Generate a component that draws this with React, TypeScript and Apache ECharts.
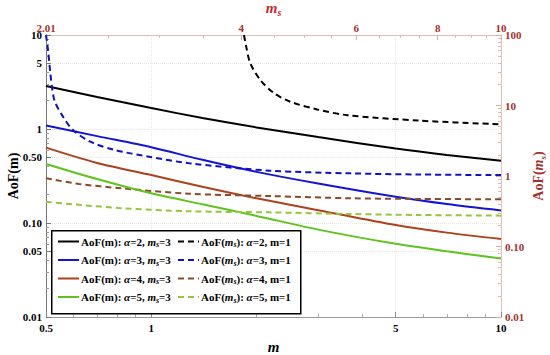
import React, { useEffect, useRef } from 'react';
import * as echarts from 'echarts';

// ---- Data ----
const mValues = [0.5, 0.7, 1, 1.4, 2, 3, 5, 7, 10];
const aofM_a2 = [2.87, 2.19, 1.67, 1.31, 1.04, 0.82, 0.62, 0.53, 0.46];
const aofM_a3 = [1.09, 0.84, 0.64, 0.47, 0.35, 0.263, 0.19, 0.159, 0.136];
const aofM_a4 = [0.633, 0.435, 0.324, 0.243, 0.183, 0.137, 0.095, 0.079, 0.0676];
const aofM_a5 = [0.425, 0.294, 0.207, 0.158, 0.119, 0.085, 0.06, 0.05, 0.042];

const msA2 = [4.04, 4.07, 4.13, 4.28, 4.49, 4.76, 5.23, 5.81, 7.5, 10];
const aofMs_a2 = [100, 70, 40, 23, 15, 11.3, 8.8, 7.3, 6.1, 5.4];
const msA3 = [2.01, 2.025, 2.04, 2.055, 2.074, 2.135, 2.21, 2.35, 2.56, 2.89, 3.34, 4.43, 5.88, 7.5, 10];
const aofMs_a3 = [100, 60, 30, 17, 11.3, 6.9, 4.5, 3.07, 2.34, 1.88, 1.51, 1.19, 1.09, 1.05, 1.03];
const msA45 = [2.01, 2.26, 2.62, 3.33, 4.43, 5.88, 7.5, 10];
const aofMs_a4 = [0.93, 0.77, 0.67, 0.56, 0.52, 0.483, 0.473, 0.468];
const aofMs_a5 = [0.43, 0.39, 0.35, 0.316, 0.305, 0.289, 0.28, 0.274];

// ---- Ticks ----
const bottomMajor = [0.5, 1, 5, 10];
const bottomLabels = ['0.5', '1', '5', '10'];
const bottomMinor = [0.6, 0.7, 0.8, 0.9, 2, 3, 4, 6, 7, 8, 9];
const leftMajor = [0.01, 0.05, 0.1, 0.5, 1, 5, 10];
const leftLabels = ['0.01', '0.05', '0.10', '0.50', '1', '5', '10'];
const leftMinor = [0.02, 0.03, 0.04, 0.06, 0.07, 0.08, 0.09, 0.2, 0.3, 0.4, 0.6, 0.7, 0.8, 0.9, 2, 3, 4, 6, 7, 8, 9];
const topMajor = [2.01, 4, 6, 8, 10];
const topLabels = ['2.01', '4', '6', '8', '10'];
const topMinor = [2.5, 3, 3.5, 4.5, 5, 5.5, 6.5, 7, 7.5, 8.5, 9, 9.5];
const rightMajor = [0.01, 0.1, 1, 10, 100];
const rightLabels = ['0.01', '0.10', '1', '10', '100'];
const rightMinor = [0.02, 0.03, 0.04, 0.05, 0.06, 0.07, 0.08, 0.09, 0.2, 0.3, 0.4, 0.5, 0.6, 0.7, 0.8, 0.9, 2, 3, 4, 5, 6, 7, 8, 9, 20, 30, 40, 50, 60, 70, 80, 90];

const alphas = [2, 3, 4, 5];
const solidColors = ['#000000', '#1414d8', '#b0401c', '#5ec41e'];
const dashColors = ['#000000', '#1010c8', '#8a4a2a', '#94c83a'];

const FONT = '"Liberation Serif", "Times New Roman", serif';
const RED = '#a8302b';
const RED_NAME = '#c8282a';

const L = (v: number) => Math.log10(v);

function makeFormatter(major: number[], labels: string[]) {
  return (val: number) => {
    for (let i = 0; i < major.length; i++) {
      if (Math.abs(L(major[i]) - val) < 1e-6) return labels[i];
    }
    return '';
  };
}

const xEdge = { alignMinLabel: 'center', alignMaxLabel: 'center' };
const yEdge = { verticalAlignMinLabel: 'middle', verticalAlignMaxLabel: 'middle' };

export default function App() {
  const ref = useRef<HTMLDivElement>(null);

  useEffect(() => {
    document.body.style.margin = '0';
    if (!ref.current) return;
    const chart = echarts.init(ref.current, null, { renderer: 'svg' });

    const solidSeriesData = [aofM_a2, aofM_a3, aofM_a4, aofM_a5];
    const dashX = [msA2, msA3, msA45, msA45];
    const dashY = [aofMs_a2, aofMs_a3, aofMs_a4, aofMs_a5];

    const solidNames = alphas.map((a) => `AoF(m): α=${a}, ms=3`);
    const dashNames = alphas.map((a) => `AoF(ms): α=${a}, m=1`);

    const series: any[] = [];
    alphas.forEach((a, k) => {
      series.push({
        name: solidNames[k],
        type: 'line',
        xAxisIndex: 0,
        yAxisIndex: 0,
        symbol: 'none',
        smooth: 0.3,
        data: mValues.map((m, i) => [L(m), L(solidSeriesData[k][i])]),
        lineStyle: { color: solidColors[k], width: 2 },
        itemStyle: { color: solidColors[k] },
        z: 2,
      });
      series.push({
        name: dashNames[k],
        type: 'line',
        xAxisIndex: 1,
        yAxisIndex: 1,
        symbol: 'none',
        smooth: 0.3,
        data: dashX[k].map((m, i) => [L(m), L(dashY[k][i])]),
        lineStyle: { color: dashColors[k], width: 2, type: [6, 4] },
        itemStyle: { color: dashColors[k] },
        z: 2,
      });
    });

    const richLegend = {
      b: { fontFamily: FONT, fontWeight: 'bold', fontSize: 11, color: '#000', lineHeight: 14 },
      i: { fontFamily: FONT, fontWeight: 'bold', fontStyle: 'italic', fontSize: 11, color: '#000', lineHeight: 14 },
      s: { fontFamily: FONT, fontWeight: 'bold', fontStyle: 'italic', fontSize: 8, color: '#000', lineHeight: 14, verticalAlign: 'bottom' },
    };

    const tickLabelStyle = { fontFamily: FONT, fontWeight: 'bold', fontSize: 11 };

    const legendCommon = {
      orient: 'vertical',
      top: 231,
      itemGap: 6,
      itemWidth: 21,
      itemHeight: 12,
      selectedMode: false,
      z: 10,
      itemStyle: { opacity: 0, borderWidth: 0 },
    };

    const option: any = {
      animation: false,
      backgroundColor: '#fff',
      grid: { left: 46, right: 49, top: 35, bottom: 38, containLabel: false, outerBoundsMode: 'none' },
      graphic: [
        {
          type: 'rect',
          left: 51,
          top: 230,
          shape: { width: 249, height: 83 },
          style: { fill: '#fff', stroke: '#000', lineWidth: 1.5 },
          z: 5,
        },
      ],
      legend: [
        {
          ...legendCommon,
          data: solidNames,
          left: 52,
          formatter: (name: string) => {
            const a = name.match(/α=(\d)/)![1];
            return `{b|AoF(m): }{i|α}{b|=${a}, }{i|m}{s|s}{b|=3}`;
          },
          textStyle: { rich: richLegend, padding: [0, 0, 0, -3] },
        },
        {
          ...legendCommon,
          data: dashNames,
          left: 172,
          formatter: (name: string) => {
            const a = name.match(/α=(\d)/)![1];
            return `{b|AoF(}{i|m}{s|s}{b|): }{i|α}{b|=${a}, m=1}`;
          },
          textStyle: { rich: richLegend, padding: [0, 0, 0, -3] },
        },
      ],
      xAxis: [
        {
          type: 'value',
          position: 'bottom',
          min: L(0.5),
          max: L(10),
          name: 'm',
          nameLocation: 'middle',
          nameGap: 22,
          nameMoveOverlap: false,
          nameTextStyle: { fontFamily: FONT, fontWeight: 'bold', fontStyle: 'italic', fontSize: 15, color: '#000' },
          axisLine: { show: true, onZero: false, lineStyle: { color: '#999', width: 1 } },
          axisTick: { show: true, inside: true, length: 5, customValues: bottomMajor.map(L), lineStyle: { color: '#888' } },
          axisLabel: { ...tickLabelStyle, ...xEdge, color: '#000', margin: 5, customValues: bottomMajor.map(L), formatter: makeFormatter(bottomMajor, bottomLabels) },
          splitLine: { show: true, lineStyle: { color: '#e6e6e6', type: 'dotted' } },
        },
        {
          type: 'value',
          position: 'top',
          min: L(2.01),
          max: L(10),
          name: '{i|m}{s|s}',
          nameLocation: 'middle',
          nameGap: 18,
          nameMoveOverlap: false,
          nameTextStyle: {
            rich: {
              i: { fontFamily: FONT, fontWeight: 'bold', fontStyle: 'italic', fontSize: 15, color: RED_NAME, lineHeight: 18 },
              s: { fontFamily: FONT, fontWeight: 'bold', fontStyle: 'italic', fontSize: 10, color: RED_NAME, lineHeight: 18, verticalAlign: 'bottom' },
            },
          },
          axisLine: { show: true, onZero: false, lineStyle: { color: '#eababa', width: 1 } },
          axisTick: { show: true, inside: true, length: 5, customValues: topMajor.map(L), lineStyle: { color: '#e0a8a8' } },
          axisLabel: { ...tickLabelStyle, ...xEdge, color: RED, margin: 2, customValues: topMajor.map(L), formatter: makeFormatter(topMajor, topLabels) },
          splitLine: { show: false },
        },
        {
          type: 'value',
          position: 'bottom',
          min: L(0.5),
          max: L(10),
          axisLine: { show: false, onZero: false },
          axisTick: { show: true, inside: true, length: 3, customValues: bottomMinor.map(L), lineStyle: { color: '#aaa' } },
          axisLabel: { show: false },
          splitLine: { show: false },
        },
        {
          type: 'value',
          position: 'top',
          min: L(2.01),
          max: L(10),
          axisLine: { show: false, onZero: false },
          axisTick: { show: true, inside: true, length: 3, customValues: topMinor.map(L), lineStyle: { color: '#e8b8b8' } },
          axisLabel: { show: false },
          splitLine: { show: false },
        },
      ],
      yAxis: [
        {
          type: 'value',
          position: 'left',
          min: L(0.01),
          max: L(10),
          name: 'AoF(m)',
          nameLocation: 'middle',
          nameGap: 26,
          nameMoveOverlap: false,
          nameTextStyle: { fontFamily: FONT, fontWeight: 'bold', fontSize: 14, color: '#000' },
          axisLine: { show: true, onZero: false, lineStyle: { color: '#777', width: 1 } },
          axisTick: { show: true, inside: true, length: 5, customValues: leftMajor.map(L), lineStyle: { color: '#777' } },
          axisLabel: { ...tickLabelStyle, ...yEdge, color: '#000', margin: 4, customValues: leftMajor.map(L), formatter: makeFormatter(leftMajor, leftLabels) },
          splitLine: { show: true, lineStyle: { color: '#e6e6e6', type: 'dotted' } },
        },
        {
          type: 'value',
          position: 'right',
          min: L(0.01),
          max: L(100),
          name: '{b|AoF(}{i|m}{s|s}{b|)}',
          nameLocation: 'middle',
          nameGap: 28,
          nameRotate: 90,
          nameMoveOverlap: false,
          nameTextStyle: {
            rich: {
              b: { fontFamily: FONT, fontWeight: 'bold', fontSize: 14, color: RED, lineHeight: 18 },
              i: { fontFamily: FONT, fontWeight: 'bold', fontStyle: 'italic', fontSize: 14, color: RED, lineHeight: 18 },
              s: { fontFamily: FONT, fontWeight: 'bold', fontStyle: 'italic', fontSize: 9, color: RED, lineHeight: 18, verticalAlign: 'bottom' },
            },
          },
          axisLine: { show: true, onZero: false, lineStyle: { color: '#e6c0b8', width: 1 } },
          axisTick: { show: true, inside: true, length: 5, customValues: rightMajor.map(L), lineStyle: { color: '#d8a8a0' } },
          axisLabel: { ...tickLabelStyle, ...yEdge, color: RED, margin: 4, customValues: rightMajor.map(L), formatter: makeFormatter(rightMajor, rightLabels) },
          splitLine: { show: false },
        },
        {
          type: 'value',
          position: 'left',
          min: L(0.01),
          max: L(10),
          axisLine: { show: false, onZero: false },
          axisTick: { show: true, inside: true, length: 3, customValues: leftMinor.map(L), lineStyle: { color: '#999' } },
          axisLabel: { show: false },
          splitLine: { show: false },
        },
        {
          type: 'value',
          position: 'right',
          min: L(0.01),
          max: L(100),
          axisLine: { show: false, onZero: false },
          axisTick: { show: true, inside: true, length: 3, customValues: rightMinor.map(L), lineStyle: { color: '#e0b8b0' } },
          axisLabel: { show: false },
          splitLine: { show: false },
        },
      ],
      series,
    };

    chart.setOption(option);
    return () => chart.dispose();
  }, []);

  return <div ref={ref} style={{ width: 550, height: 355 }} />;
}
